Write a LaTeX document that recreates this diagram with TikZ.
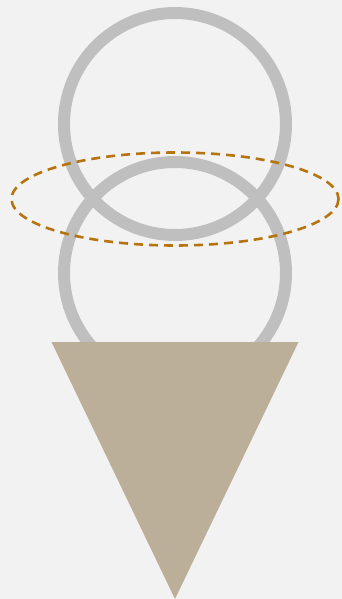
\documentclass[tikz,border=0pt]{standalone}
\definecolor{bgc}{HTML}{F2F2F2}
\definecolor{ringc}{HTML}{BFBFBF}
\definecolor{dashc}{HTML}{B5740F}
\definecolor{conec}{HTML}{BBAF9A}
\tikzset{
  ring/.style={draw=ringc, line width=12pt},
  orbit/.style={draw=dashc, line width=2.6pt, dash pattern=on 9pt off 6pt},
  cone/.style={fill=conec}
}
\begin{document}
\begin{tikzpicture}[x=1pt,y=-1pt]
\fill[bgc] (0,0) rectangle (342,599);
\useasboundingbox (0,0) rectangle (342,599);
\draw[ring] (175,124) circle[radius=111];
\draw[ring] (175,273) circle[radius=111];
\draw[orbit] (175,199) ellipse[x radius=163.5, y radius=46.5];
\fill[cone] (51.5,342) -- (298.5,342) -- (175,599) -- cycle;
\end{tikzpicture}
\end{document}
